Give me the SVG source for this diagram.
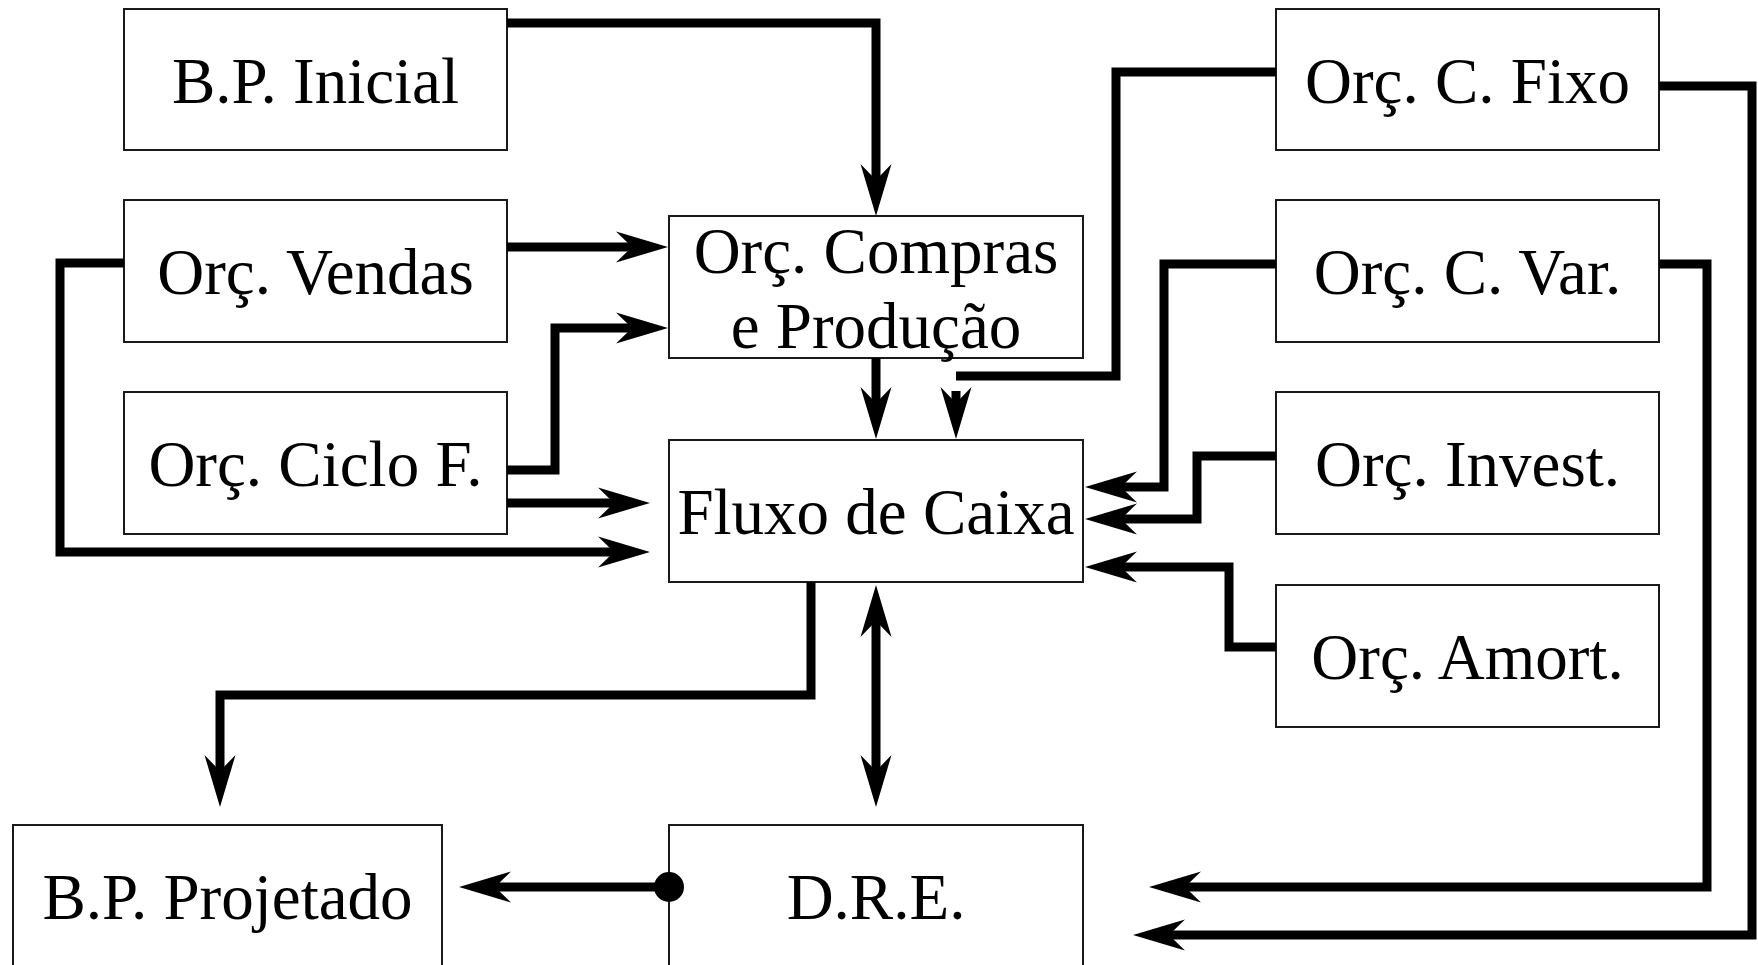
<svg xmlns="http://www.w3.org/2000/svg" width="1758" height="965" viewBox="0 0 1758 965">
<style>
.box{fill:#fff;stroke:#1a1a1a;stroke-width:2}
.lbl{font-family:"Liberation Serif","Times New Roman",serif;font-size:65px;fill:#000;text-anchor:middle}
.ln{fill:none;stroke:#000;stroke-width:9;stroke-linejoin:miter;stroke-linecap:butt}
.arr{marker-end:url(#ah)}
</style>
<defs>
<marker id="ah" viewBox="-17 -17 54 34" refX="0" refY="0" markerWidth="54" markerHeight="34" markerUnits="userSpaceOnUse" orient="auto-start-reverse">
<path d="M36,0 L-16,-15.5 L0,0 L-16,15.5 Z" fill="#000"/>
</marker>
</defs>
<rect width="1758" height="965" fill="#fff"/>
<g id="bp-inicial"><rect class="box" x="124" y="9" width="383" height="141"/><text class="lbl" x="315.5" y="103">B.P. Inicial</text></g>
<g id="orc-vendas"><rect class="box" x="124" y="200" width="383" height="142"/><text class="lbl" x="315.5" y="294">Orç. Vendas</text></g>
<g id="orc-ciclo"><rect class="box" x="124" y="392" width="383" height="142"/><text class="lbl" x="315.5" y="486">Orç. Ciclo F.</text></g>
<g id="orc-compras"><rect class="box" x="669" y="216" width="414" height="142"/><text class="lbl" x="876" y="273">Orç. Compras</text><text class="lbl" x="876" y="348">e Produção</text></g>
<g id="fluxo-caixa"><rect class="box" x="669" y="440" width="414" height="142"/><text class="lbl" x="876" y="534">Fluxo de Caixa</text></g>
<g id="dre"><rect class="box" x="669" y="825" width="414" height="142"/><text class="lbl" x="876" y="919">D.R.E.</text></g>
<g id="bp-projetado"><rect class="box" x="13" y="825" width="429" height="142"/><text class="lbl" x="227.5" y="919">B.P. Projetado</text></g>
<g id="orc-c-fixo"><rect class="box" x="1276" y="9" width="383" height="141"/><text class="lbl" x="1467.5" y="103">Orç. C. Fixo</text></g>
<g id="orc-c-var"><rect class="box" x="1276" y="200" width="383" height="142"/><text class="lbl" x="1467.5" y="294">Orç. C. Var.</text></g>
<g id="orc-invest"><rect class="box" x="1276" y="392" width="383" height="142"/><text class="lbl" x="1467.5" y="486">Orç. Invest.</text></g>
<g id="orc-amort"><rect class="box" x="1276" y="585" width="383" height="142"/><text class="lbl" x="1467.5" y="679">Orç. Amort.</text></g>
<g id="connectors">
<path class="ln arr" d="M507,23 H876 V180"/>
<path class="ln arr" d="M507,247 H632"/>
<path class="ln arr" d="M507,470 H555 V328 H632"/>
<path class="ln arr" d="M507,503 H614"/>
<path class="ln arr" d="M124,263 H60 V552 H614"/>
<path class="ln arr" d="M876,358 V403"/>
<path class="ln" d="M1276,72 H1116 V376 H956"/>
<path class="ln arr" d="M956,391 V403"/>
<path class="ln arr" d="M1276,264 H1164 V487 H1121"/>
<path class="ln arr" d="M1276,456 H1197 V519 H1121"/>
<path class="ln arr" d="M1276,647 H1229 V567 H1121"/>
<path class="ln arr" d="M811,582 V695 H220 V771"/>
<path class="ln" d="M876,621 V771" marker-start="url(#ah)" marker-end="url(#ah)"/>
<path class="ln arr" d="M669,887 H495"/>
<circle cx="669" cy="887" r="15" fill="#000"/>
<path class="ln arr" d="M1659,264 H1707 V887 H1185"/>
<path class="ln arr" d="M1659,86 H1752 V935 H1169"/>
</g>
</svg>
